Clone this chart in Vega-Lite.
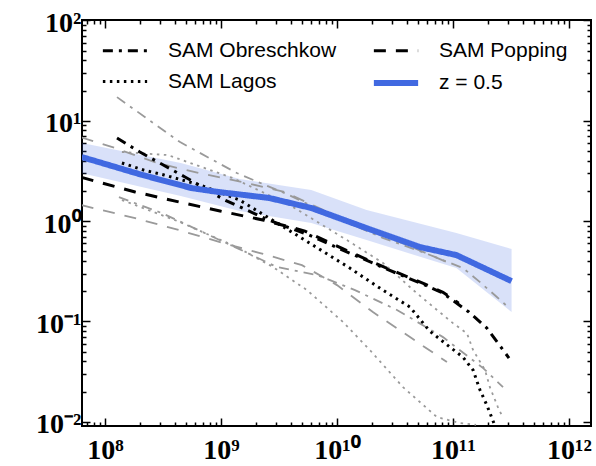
{
  "$schema": "https://vega.github.io/schema/vega-lite/v6.json",
  "width": 509,
  "height": 406,
  "autosize": {"type": "none"},
  "padding": {"left": 82, "top": 20, "right": 5, "bottom": 40},
  "background": "white",
  "config": {
    "view": {"stroke": "black", "strokeWidth": 2},
    "legend": {
      "orient": "none", "legendX": 24, "legendY": 13, "columns": 2, "columnPadding": 24,
      "rowPadding": 3, "labelFont": "Liberation Sans", "labelFontSize": 21, "labelColor": "black",
      "symbolSize": 1000, "symbolType": "M-1.4,0L1.4,0", "labelOffset": 24, "padding": 0, "labelLimit": 400, "title": null
    }
  },
  "datasets": {
    "band": [
      {"x": 6.3e7, "lo": 3.01, "hi": 6.0},
      {"x": 4.5e8, "lo": 1.78, "hi": 3.79},
      {"x": 1.45e9, "lo": 1.26, "hi": 2.62},
      {"x": 6.0e9, "lo": 0.955, "hi": 2.04},
      {"x": 1.8e10, "lo": 0.646, "hi": 1.29},
      {"x": 1.07e11, "lo": 0.34, "hi": 0.76},
      {"x": 3.2e11, "lo": 0.124, "hi": 0.526}
    ],
    "grey": [
      {"series": "SAM Obreschkow", "z": "hi", "x": 1.27e8, "y": 17.2},
      {"series": "SAM Obreschkow", "z": "hi", "x": 4.44e8, "y": 6.13},
      {"series": "SAM Obreschkow", "z": "hi", "x": 1.37e9, "y": 3.01},
      {"series": "SAM Obreschkow", "z": "hi", "x": 3.85e9, "y": 1.82},
      {"series": "SAM Obreschkow", "z": "hi", "x": 1.0e10, "y": 1.07},
      {"series": "SAM Obreschkow", "z": "hi", "x": 2.51e10, "y": 0.677},
      {"series": "SAM Obreschkow", "z": "hi", "x": 5.75e10, "y": 0.48},
      {"series": "SAM Obreschkow", "z": "hi", "x": 1.22e11, "y": 0.34},
      {"series": "SAM Obreschkow", "z": "hi", "x": 1.71e11, "y": 0.246},
      {"series": "SAM Obreschkow", "z": "hi", "x": 2.39e11, "y": 0.175},
      {"series": "SAM Obreschkow", "z": "hi", "x": 2.98e11, "y": 0.139},
      {"series": "SAM Popping", "z": "hi", "x": 6.3e7, "y": 6.8},
      {"series": "SAM Popping", "z": "hi", "x": 1.22e8, "y": 5.35},
      {"series": "SAM Popping", "z": "hi", "x": 2.81e8, "y": 3.79},
      {"series": "SAM Popping", "z": "hi", "x": 6.46e8, "y": 3.01},
      {"series": "SAM Popping", "z": "hi", "x": 1.52e9, "y": 2.45},
      {"series": "SAM Popping", "z": "hi", "x": 3.56e9, "y": 1.95},
      {"series": "SAM Popping", "z": "hi", "x": 6.17e9, "y": 1.44},
      {"series": "SAM Popping", "z": "hi", "x": 1.67e10, "y": 0.85},
      {"series": "SAM Popping", "z": "hi", "x": 3.71e10, "y": 0.60},
      {"series": "SAM Popping", "z": "hi", "x": 8.87e10, "y": 0.39},
      {"series": "SAM Lagos", "z": "hi", "x": 1.40e8, "y": 4.88},
      {"series": "SAM Lagos", "z": "hi", "x": 3.49e8, "y": 4.55},
      {"series": "SAM Lagos", "z": "hi", "x": 1.27e9, "y": 2.68},
      {"series": "SAM Lagos", "z": "hi", "x": 3.94e9, "y": 1.44},
      {"series": "SAM Lagos", "z": "hi", "x": 1.22e10, "y": 0.646},
      {"series": "SAM Lagos", "z": "hi", "x": 2.51e10, "y": 0.38},
      {"series": "SAM Lagos", "z": "hi", "x": 4.9e10, "y": 0.19},
      {"series": "SAM Lagos", "z": "hi", "x": 7.28e10, "y": 0.13},
      {"series": "SAM Lagos", "z": "hi", "x": 1.0e11, "y": 0.096},
      {"series": "SAM Lagos", "z": "hi", "x": 1.32e11, "y": 0.076},
      {"series": "SAM Lagos", "z": "hi", "x": 1.49e11, "y": 0.0518},
      {"series": "SAM Lagos", "z": "hi", "x": 1.89e11, "y": 0.0327},
      {"series": "SAM Lagos", "z": "hi", "x": 2.08e11, "y": 0.0221},
      {"series": "SAM Lagos", "z": "hi", "x": 2.44e11, "y": 0.014},
      {"series": "SAM Lagos", "z": "hi", "x": 2.70e11, "y": 0.0109},
      {"series": "SAM Popping", "z": "lo", "x": 6.3e7, "y": 1.44},
      {"series": "SAM Popping", "z": "lo", "x": 1.82e8, "y": 1.07},
      {"series": "SAM Popping", "z": "lo", "x": 4.35e8, "y": 0.813},
      {"series": "SAM Popping", "z": "lo", "x": 1.2e9, "y": 0.576},
      {"series": "SAM Popping", "z": "lo", "x": 2.17e9, "y": 0.48},
      {"series": "SAM Popping", "z": "lo", "x": 4.99e9, "y": 0.364},
      {"series": "SAM Popping", "z": "lo", "x": 1.0e10, "y": 0.23},
      {"series": "SAM Popping", "z": "lo", "x": 2.04e10, "y": 0.124},
      {"series": "SAM Popping", "z": "lo", "x": 4.26e10, "y": 0.0697},
      {"series": "SAM Popping", "z": "lo", "x": 8.87e10, "y": 0.0393},
      {"series": "SAM Obreschkow", "z": "lo", "x": 1.32e8, "y": 1.73},
      {"series": "SAM Obreschkow", "z": "lo", "x": 3.10e8, "y": 1.20},
      {"series": "SAM Obreschkow", "z": "lo", "x": 5.62e8, "y": 0.871},
      {"series": "SAM Obreschkow", "z": "lo", "x": 1.32e9, "y": 0.55},
      {"series": "SAM Obreschkow", "z": "lo", "x": 3.04e9, "y": 0.348},
      {"series": "SAM Obreschkow", "z": "lo", "x": 6.73e9, "y": 0.29},
      {"series": "SAM Obreschkow", "z": "lo", "x": 1.43e10, "y": 0.205},
      {"series": "SAM Obreschkow", "z": "lo", "x": 3.29e10, "y": 0.13},
      {"series": "SAM Obreschkow", "z": "lo", "x": 8.2e10, "y": 0.0697},
      {"series": "SAM Obreschkow", "z": "lo", "x": 1.82e11, "y": 0.0342},
      {"series": "SAM Obreschkow", "z": "lo", "x": 2.70e11, "y": 0.0221},
      {"series": "SAM Lagos", "z": "lo", "x": 1.40e8, "y": 1.62},
      {"series": "SAM Lagos", "z": "lo", "x": 4.44e8, "y": 0.977},
      {"series": "SAM Lagos", "z": "lo", "x": 1.37e9, "y": 0.55},
      {"series": "SAM Lagos", "z": "lo", "x": 2.81e9, "y": 0.348},
      {"series": "SAM Lagos", "z": "lo", "x": 5.51e9, "y": 0.205},
      {"series": "SAM Lagos", "z": "lo", "x": 1.13e10, "y": 0.0984},
      {"series": "SAM Lagos", "z": "lo", "x": 1.92e10, "y": 0.0518},
      {"series": "SAM Lagos", "z": "lo", "x": 3.71e10, "y": 0.0221},
      {"series": "SAM Lagos", "z": "lo", "x": 7.28e10, "y": 0.0111},
      {"series": "SAM Lagos", "z": "lo", "x": 1.15e11, "y": 0.0097},
      {"series": "SAM Lagos", "z": "lo", "x": 1.58e11, "y": 0.0093}
    ],
    "main": [
      {"series": "SAM Obreschkow", "x": 1.27e8, "y": 6.72},
      {"series": "SAM Obreschkow", "x": 2.0e8, "y": 4.88},
      {"series": "SAM Obreschkow", "x": 4.9e8, "y": 2.75},
      {"series": "SAM Obreschkow", "x": 1.08e9, "y": 1.62},
      {"series": "SAM Obreschkow", "x": 2.59e9, "y": 1.02},
      {"series": "SAM Obreschkow", "x": 5.74e9, "y": 0.725},
      {"series": "SAM Obreschkow", "x": 1.12e10, "y": 0.514},
      {"series": "SAM Obreschkow", "x": 2.69e10, "y": 0.332},
      {"series": "SAM Obreschkow", "x": 5.75e10, "y": 0.230},
      {"series": "SAM Obreschkow", "x": 8.2e10, "y": 0.191},
      {"series": "SAM Obreschkow", "x": 1.37e11, "y": 0.124},
      {"series": "SAM Obreschkow", "x": 1.96e11, "y": 0.0857},
      {"series": "SAM Obreschkow", "x": 3.04e11, "y": 0.0431},
      {"series": "SAM Popping", "x": 6.3e7, "y": 2.72},
      {"series": "SAM Popping", "x": 1.82e8, "y": 1.95},
      {"series": "SAM Popping", "x": 4.35e8, "y": 1.55},
      {"series": "SAM Popping", "x": 9.8e8, "y": 1.26},
      {"series": "SAM Popping", "x": 2.35e9, "y": 1.02},
      {"series": "SAM Popping", "x": 5.3e9, "y": 0.795},
      {"series": "SAM Popping", "x": 1.12e10, "y": 0.53},
      {"series": "SAM Popping", "x": 2.59e10, "y": 0.345},
      {"series": "SAM Popping", "x": 5.75e10, "y": 0.235},
      {"series": "SAM Popping", "x": 8.2e10, "y": 0.195},
      {"series": "SAM Popping", "x": 1.12e11, "y": 0.152},
      {"series": "SAM Lagos", "x": 1.40e8, "y": 3.79},
      {"series": "SAM Lagos", "x": 2.17e8, "y": 3.22},
      {"series": "SAM Lagos", "x": 3.23e8, "y": 2.88},
      {"series": "SAM Lagos", "x": 6.6e8, "y": 2.29},
      {"series": "SAM Lagos", "x": 1.45e9, "y": 1.62},
      {"series": "SAM Lagos", "x": 4.8e9, "y": 0.692},
      {"series": "SAM Lagos", "x": 1.29e10, "y": 0.34},
      {"series": "SAM Lagos", "x": 2.49e10, "y": 0.205},
      {"series": "SAM Lagos", "x": 4.26e10, "y": 0.139},
      {"series": "SAM Lagos", "x": 6.3e10, "y": 0.080},
      {"series": "SAM Lagos", "x": 9.4e10, "y": 0.0555},
      {"series": "SAM Lagos", "x": 1.22e11, "y": 0.044},
      {"series": "SAM Lagos", "x": 1.49e11, "y": 0.0327},
      {"series": "SAM Lagos", "x": 1.71e11, "y": 0.0207},
      {"series": "SAM Lagos", "x": 1.96e11, "y": 0.0146},
      {"series": "SAM Lagos", "x": 2.25e11, "y": 0.0097},
      {"series": "z = 0.5", "x": 6.3e7, "y": 4.35},
      {"series": "z = 0.5", "x": 2.1e8, "y": 2.88},
      {"series": "z = 0.5", "x": 5.6e8, "y": 2.13},
      {"series": "z = 0.5", "x": 9.5e8, "y": 1.95},
      {"series": "z = 0.5", "x": 2.6e9, "y": 1.70},
      {"series": "z = 0.5", "x": 6.0e9, "y": 1.35},
      {"series": "z = 0.5", "x": 1.8e10, "y": 0.85},
      {"series": "z = 0.5", "x": 5.2e10, "y": 0.55},
      {"series": "z = 0.5", "x": 1.07e11, "y": 0.458},
      {"series": "z = 0.5", "x": 3.2e11, "y": 0.252}
    ]
  },
  "layer": [
    {
      "data": {"name": "band"},
      "mark": {"type": "area", "color": "royalblue", "opacity": 0.2, "clip": true},
      "encoding": {
        "x": {
          "field": "x", "type": "quantitative",
          "scale": {"type": "log", "domain": [6.34e7, 1.548e12], "nice": false},
          "axis": {
            "orient": "bottom", "title": null, "domain": false, "grid": false,
            "values": [7e7, 8e7, 9e7, 1e8, 2e8, 3e8, 4e8, 5e8, 6e8, 7e8, 8e8, 9e8, 1e9, 2e9, 3e9, 4e9, 5e9, 6e9, 7e9, 8e9, 9e9, 1e10, 2e10, 3e10, 4e10, 5e10, 6e10, 7e10, 8e10, 9e10, 1e11, 2e11, 3e11, 4e11, 5e11, 6e11, 7e11, 8e11, 9e11, 1e12],
            "labelExpr": "datum.value == 1e8 ? '10⁸' : datum.value == 1e9 ? '10⁹' : datum.value == 1e10 ? '10¹⁰' : datum.value == 1e11 ? '10¹¹' : datum.value == 1e12 ? '10¹²' : ''",
            "tickSize": {"condition": {"test": "datum.value == 1e8 || datum.value == 1e9 || datum.value == 1e10 || datum.value == 1e11 || datum.value == 1e12", "value": -8}, "value": -4},
            "tickWidth": 1.5, "tickColor": "black",
            "labelFont": "Liberation Serif", "labelFontWeight": "bold", "labelFontSize": 28, "labelColor": "black",
            "labelPadding": 18, "labelFlush": false, "labelOverlap": false
          }
        },
        "y": {
          "field": "lo", "type": "quantitative",
          "scale": {"type": "log", "domain": [0.00906, 101], "nice": false},
          "axis": {
            "orient": "left", "title": null, "domain": false, "grid": false,
            "values": [0.01, 0.02, 0.03, 0.04, 0.05, 0.06, 0.07, 0.08, 0.09, 0.1, 0.2, 0.3, 0.4, 0.5, 0.6, 0.7, 0.8, 0.9, 1, 2, 3, 4, 5, 6, 7, 8, 9, 10, 20, 30, 40, 50, 60, 70, 80, 90, 100],
            "labelExpr": "datum.value == 0.01 ? '10⁻²' : datum.value == 0.1 ? '10⁻¹' : datum.value == 1 ? '10⁰' : datum.value == 10 ? '10¹' : datum.value == 100 ? '10²' : ''",
            "tickSize": {"condition": {"test": "datum.value == 0.01 || datum.value == 0.1 || datum.value == 1 || datum.value == 10 || datum.value == 100", "value": -8}, "value": -4},
            "tickWidth": 1.5, "tickColor": "black",
            "labelFont": "Liberation Serif", "labelFontWeight": "bold", "labelFontSize": 28, "labelColor": "black",
            "labelPadding": 9, "labelOffset": 3, "labelFlush": false, "labelOverlap": false
          }
        },
        "y2": {"field": "hi"}
      }
    },
    {
      "data": {"name": "grey"},
      "mark": {"type": "line", "color": "#9a9a9a", "strokeWidth": 1.8, "clip": true},
      "encoding": {
        "x": {
          "field": "x", "type": "quantitative",
          "axis": {
            "orient": "top", "title": null, "domain": false, "grid": false, "labels": false,
            "values": [7e7, 8e7, 9e7, 1e8, 2e8, 3e8, 4e8, 5e8, 6e8, 7e8, 8e8, 9e8, 1e9, 2e9, 3e9, 4e9, 5e9, 6e9, 7e9, 8e9, 9e9, 1e10, 2e10, 3e10, 4e10, 5e10, 6e10, 7e10, 8e10, 9e10, 1e11, 2e11, 3e11, 4e11, 5e11, 6e11, 7e11, 8e11, 9e11, 1e12],
            "tickSize": {"condition": {"test": "datum.value == 1e8 || datum.value == 1e9 || datum.value == 1e10 || datum.value == 1e11 || datum.value == 1e12", "value": -8}, "value": -4},
            "tickWidth": 1.5, "tickColor": "black"
          }
        },
        "y": {
          "field": "y", "type": "quantitative",
          "axis": {
            "orient": "right", "title": null, "domain": false, "grid": false, "labels": false,
            "values": [0.01, 0.02, 0.03, 0.04, 0.05, 0.06, 0.07, 0.08, 0.09, 0.1, 0.2, 0.3, 0.4, 0.5, 0.6, 0.7, 0.8, 0.9, 1, 2, 3, 4, 5, 6, 7, 8, 9, 10, 20, 30, 40, 50, 60, 70, 80, 90, 100],
            "tickSize": {"condition": {"test": "datum.value == 0.01 || datum.value == 0.1 || datum.value == 1 || datum.value == 10 || datum.value == 100", "value": -8}, "value": -4},
            "tickWidth": 1.5, "tickColor": "black"
          }
        },
        "strokeDash": {"field": "series", "type": "nominal"},
        "detail": {"field": "z", "type": "nominal"}
      }
    },
    {
      "data": {"name": "main"},
      "mark": {"type": "line", "clip": true},
      "encoding": {
        "x": {"field": "x", "type": "quantitative", "axis": null},
        "y": {"field": "y", "type": "quantitative", "axis": null},
        "color": {
          "field": "series", "type": "nominal",
          "scale": {"domain": ["SAM Obreschkow", "SAM Lagos", "SAM Popping", "z = 0.5"], "range": ["black", "black", "black", "royalblue"]}
        },
        "strokeDash": {
          "field": "series", "type": "nominal",
          "scale": {"domain": ["SAM Obreschkow", "SAM Lagos", "SAM Popping", "z = 0.5"], "range": [[10, 6, 3, 6], [2.5, 4.5], [12, 10], [1, 0]]}
        },
        "strokeWidth": {
          "field": "series", "type": "nominal",
          "scale": {"type": "ordinal", "domain": ["SAM Obreschkow", "SAM Lagos", "SAM Popping", "z = 0.5"], "range": [3, 3, 3, 6]}
        }
      }
    }
  ],
  "resolve": {"axis": {"x": "independent", "y": "independent"}}
}
